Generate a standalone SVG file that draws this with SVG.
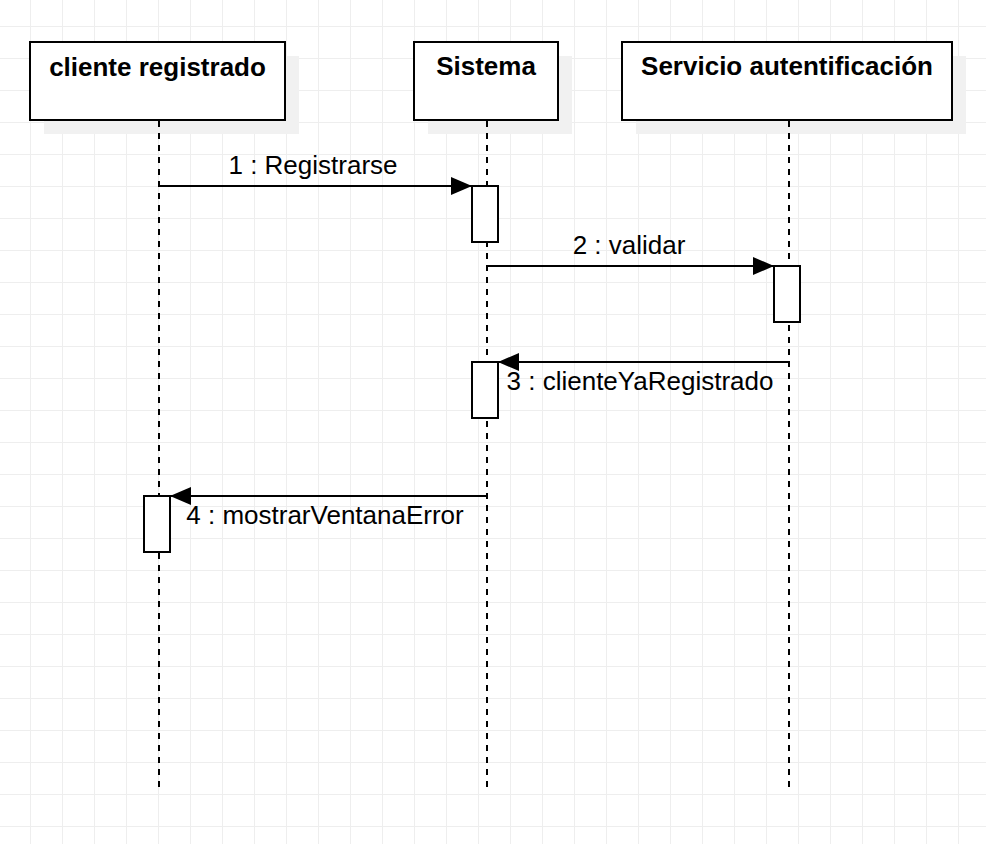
<svg xmlns="http://www.w3.org/2000/svg" width="986" height="844" viewBox="0 0 986 844">
  <defs>
    <pattern id="grid" x="30" y="26" width="32" height="32" patternUnits="userSpaceOnUse">
      <path d="M0 0.5 H32 M0.5 0 V32" fill="none" stroke="#eeeeee" stroke-width="1"/>
    </pattern>
    <marker id="block" viewBox="0 0 21 18" refX="21" refY="9" markerWidth="21" markerHeight="18" markerUnits="userSpaceOnUse" orient="auto">
      <path d="M0 0 L21 9 L0 18 Z" fill="#000"/>
    </marker>
  </defs>
  <style>
    .head { fill: #fff; stroke: #000; stroke-width: 2; }
    .shadow { fill: #f1f1f1; stroke: none; }
    .title { font-family: "Liberation Sans", Arial, sans-serif; font-weight: bold; font-size: 26px; text-anchor: middle; fill: #000; }
    .life { stroke: #000; stroke-width: 2; stroke-dasharray: 6 6; fill: none; }
    .act { fill: #fff; stroke: #000; stroke-width: 2; }
    .msg { stroke: #000; stroke-width: 2; fill: none; marker-end: url(#block); }
    .lbl { font-family: "Liberation Sans", Arial, sans-serif; font-size: 26px; text-anchor: middle; fill: #000; }
  </style>
  <rect width="986" height="844" fill="#ffffff"/>
  <rect width="986" height="844" fill="url(#grid)"/>

  <g id="cliente">
    <rect class="shadow" x="44" y="56" width="255" height="78"/>
    <rect class="head" x="30" y="42" width="255" height="78"/>
    <text class="title" x="157.5" y="76">cliente registrado</text>
  </g>
  <g id="sistema">
    <rect class="shadow" x="428" y="56" width="144" height="78"/>
    <rect class="head" x="414" y="42" width="144" height="78"/>
    <text class="title" x="486" y="75">Sistema</text>
  </g>
  <g id="servicio">
    <rect class="shadow" x="636" y="56" width="330" height="78"/>
    <rect class="head" x="622" y="42" width="330" height="78"/>
    <text class="title" x="787" y="75">Servicio autentificación</text>
  </g>

  <g id="lifelines">
    <line class="life" x1="159" y1="121" x2="159" y2="788"/>
    <line class="life" x1="487" y1="121" x2="487" y2="788"/>
    <line class="life" x1="789" y1="121" x2="789" y2="788"/>
  </g>

  <g id="activations">
    <rect class="act" x="472" y="186" width="26" height="56"/>
    <rect class="act" x="774" y="266" width="26" height="56"/>
    <rect class="act" x="472" y="362" width="26" height="56"/>
    <rect class="act" x="144" y="496" width="26" height="56"/>
  </g>

  <g id="connectors">
    <line class="msg" x1="159" y1="186" x2="472" y2="186"/>
    <text class="lbl" x="313" y="174">1 : Registrarse</text>
    <line class="msg" x1="487" y1="266" x2="774" y2="266"/>
    <text class="lbl" x="629" y="254">2 : validar</text>
    <line class="msg" x1="789" y1="362" x2="498" y2="362"/>
    <text class="lbl" x="640" y="390">3 : clienteYaRegistrado</text>
    <line class="msg" x1="487" y1="496" x2="170" y2="496"/>
    <text class="lbl" x="325" y="524">4 : mostrarVentanaError</text>
  </g>
</svg>
